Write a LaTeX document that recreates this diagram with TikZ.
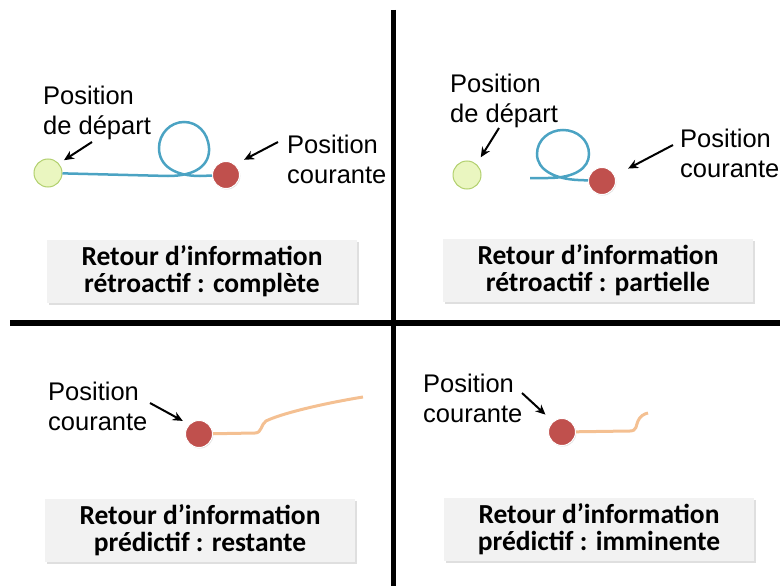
\documentclass[tikz,border=0pt]{standalone}
\usepackage{fontspec}
\setmainfont{Liberation Sans}
\newfontfamily\calib{Carlito}
\usetikzlibrary{arrows.meta,shadows}

\definecolor{loopblue}{RGB}{75,163,195}
\definecolor{pathtan}{RGB}{244,192,146}
\definecolor{curred}{RGB}{192,80,77}
\definecolor{startgreen}{RGB}{234,246,192}
\definecolor{startrim}{RGB}{178,208,110}
\definecolor{boxgray}{RGB}{242,242,242}

\begin{document}
\begin{tikzpicture}[x=1pt, y=-1pt,
        lbl/.style={anchor=north west, align=left, inner sep=0pt,
                    font=\fontsize{25.5}{30}\selectfont},
        fb/.style={fill=boxgray, minimum width=310pt, minimum height=63pt,
                   align=center, inner sep=0pt,
                   drop shadow={shadow xshift=1.5pt, shadow yshift=-2pt, opacity=.25},
                   font=\calib\bfseries\fontsize{27.5}{26.5}\selectfont},
        startpt/.style={circle, fill=startgreen, draw=startrim, line width=1pt,
                        minimum size=28pt, inner sep=0pt},
        curpt/.style={circle, fill=curred, draw=white, line width=1pt,
                      minimum size=27pt, inner sep=0pt,
                      drop shadow={shadow xshift=.8pt, shadow yshift=-1pt, opacity=.25}},
        ptr/.style={line width=2pt, -{Stealth[length=10pt,width=9pt]}},
        trail/.style={line width=2.5pt, loopblue},
        ahead/.style={line width=3pt, pathtan}
    ]
        \useasboundingbox (0,0) rectangle (780,586);

        % quadrant dividers
        \draw[line width=5pt] (393,10) -- (393,586);
        \draw[line width=6pt] (10,323) -- (780,323);

        % top left
        \node[startpt] (d1) at (48,173) {};
        \node[curpt] (c1) at (226,175) {};
        \draw[trail] (d1) -- (168,176)
            .. controls (196,176) and (210,165) .. (209,148)
            .. controls (208,132) and (197,122) .. (184,122)
            .. controls (170,122) and (159,134) .. (159,148)
            .. controls (159,166) and (175,176) .. (200,176) -- (c1);
        \node[lbl] (ld1) at (43,86) {Position\\de départ};
        \node[lbl] (lc1) at (287,135) {Position\\courante};
        \coordinate (p1) at (92,142);
        \coordinate (p2) at (278,142);
        \draw[ptr, shorten >=6pt] (p1) -- (d1.41);
        \draw[ptr, shorten >=10pt] (p2) -- (c1.49);
        \node[fb] (fb1) at (202,271) {Retour d’information\\rétroactif : complète};

        % top right
        \node[startpt] (d2) at (467,175) {};
        \node[curpt] (c2) at (602,181) {};
        \coordinate (b2) at (530,178);
        \draw[trail] (b2) -- (548,178)
            .. controls (575,178) and (589,168) .. (589,154)
            .. controls (589,140) and (577,130) .. (563,130)
            .. controls (549,130) and (537,140) .. (537,154)
            .. controls (537,170) and (555,179) .. (578,180) -- (c2);
        \node[lbl] (ld2) at (450,74) {Position\\de départ};
        \node[lbl] (lc2) at (680,129) {Position\\courante};
        \coordinate (p3) at (499,128);
        \coordinate (p4) at (673,145);
        \draw[ptr, shorten >=8pt] (p3) -- (d2.49);
        \draw[ptr, shorten >=15pt] (p4) -- (c2.23);
        \node[fb] (fb2) at (598,270) {Retour d’information\\rétroactif : partielle};

        % bottom left
        \node[curpt] (c3) at (199,434) {};
        \coordinate (e3) at (363,397);
        \draw[ahead] (c3) -- (255,433)
            .. controls (262,433) and (261,424) .. (266,421)
            .. controls (280,414) and (320,404) .. (e3);
        \node[lbl] (lc3) at (48,382) {Position\\courante};
        \coordinate (p5) at (150,403);
        \draw[ptr, shorten >=7pt] (p5) -- (c3.136);
        \node[fb] (fb3) at (200,530) {Retour d’information\\prédictif : restante};

        % bottom right
        \node[curpt] (c4) at (562,432) {};
        \coordinate (e4) at (648,413);
        \draw[ahead] (c4) -- (630,431)
            .. controls (637,431) and (636,425) .. (638,421)
            .. controls (640,416) and (644,414) .. (e4);
        \node[lbl] (lc4) at (423,374) {Position\\courante};
        \coordinate (p6) at (522,393);
        \draw[ptr, shorten >=10pt] (p6) -- (c4.131);
        \node[fb] (fb4) at (599,529) {Retour d’information\\prédictif : imminente};
    \end{tikzpicture}
\end{document}
